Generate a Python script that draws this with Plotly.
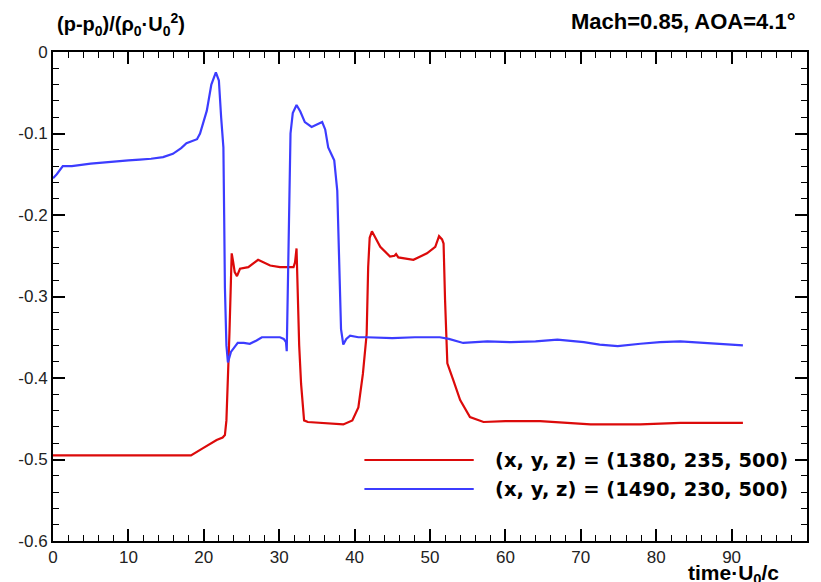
import plotly.graph_objects as go

# ---- data ----
blue_x = [0, 0.5, 1.3, 2.5, 5, 7.1, 10, 11.5, 13, 14.6, 15.9, 17, 17.7, 19.1, 19.5, 20.4, 21.0, 21.6, 22.0,
          22.3, 22.6, 22.7, 22.8, 23.0, 23.2, 23.6, 24.5, 25.3, 26.1, 27.0, 27.7, 29, 30.1, 30.6, 30.9, 31.0,
          31.15, 31.3, 31.5, 31.8, 32.3, 32.8, 33.4, 34.3, 35.0, 35.7, 36.1, 36.5, 37.0, 37.3, 37.7, 37.9, 38.0,
          38.2, 38.5, 38.9, 39.4, 40.5, 41.6, 45, 48, 51.3, 52.5, 54.4, 56, 57.6, 60.7, 64, 66.9, 70.4, 72.5,
          74.9, 77.9, 80.5, 83.2, 87.6, 91.5]
blue_y = [-0.155, -0.150, -0.140, -0.140, -0.137, -0.135, -0.133, -0.132, -0.131, -0.129, -0.125, -0.118,
          -0.112, -0.107, -0.100, -0.072, -0.040, -0.025, -0.035, -0.080, -0.117, -0.200, -0.289, -0.360,
          -0.381, -0.368, -0.357, -0.357, -0.358, -0.354, -0.350, -0.350, -0.350, -0.352, -0.356, -0.367,
          -0.300, -0.200, -0.100, -0.075, -0.065, -0.073, -0.086, -0.092, -0.089, -0.086, -0.095, -0.117,
          -0.127, -0.133, -0.170, -0.230, -0.272, -0.340, -0.359, -0.352, -0.348, -0.350, -0.350, -0.351,
          -0.350, -0.350, -0.352, -0.357, -0.356, -0.355, -0.356, -0.355, -0.353, -0.356, -0.359, -0.361,
          -0.358, -0.356, -0.355, -0.358, -0.360]

red_x = [0, 18.3, 19.9, 21.0, 21.7, 22.5, 22.8, 23.0, 23.2, 23.4, 23.6, 23.7, 23.9, 24.1, 24.4, 24.8, 25.9,
         27.2, 28.8, 30.1, 31.9, 32.1, 32.3, 32.45, 32.65, 32.9, 33.3, 33.8, 36, 38.5, 39.7, 40.5, 41.1, 41.6,
         41.8, 42.0, 42.3, 42.7, 43.4, 44.7, 45.3, 45.5, 45.8, 47.8, 49.6, 50.7, 51.2, 51.6, 51.8, 52.0, 52.3,
         53.1, 54.0, 55.3, 57.1, 60, 64.6, 71.3, 77.9, 83.2, 91.5]
red_y = [-0.495, -0.495, -0.486, -0.480, -0.476, -0.473, -0.470, -0.452, -0.403, -0.345, -0.280, -0.247,
         -0.258, -0.270, -0.275, -0.266, -0.264, -0.255, -0.262, -0.264, -0.264, -0.258, -0.241, -0.305,
         -0.360, -0.407, -0.452, -0.454, -0.455, -0.457, -0.452, -0.436, -0.395, -0.346, -0.264, -0.228,
         -0.220, -0.227, -0.239, -0.251, -0.250, -0.248, -0.252, -0.255, -0.247, -0.239, -0.226, -0.230,
         -0.235, -0.305, -0.382, -0.403, -0.427, -0.448, -0.454, -0.453, -0.453, -0.457, -0.457, -0.455,
         -0.455]

red_name = "(x, y, z) = (1380, 235, 500)"
blue_name = "(x, y, z) = (1490, 230, 500)"

x_ticks = [0, 10, 20, 30, 40, 50, 60, 70, 80, 90, 100]
x_ticktext = ["0", "10", "20", "30", "40", "50", "60", "70", "80", "90", "100"]
y_ticks = [0, -0.1, -0.2, -0.3, -0.4, -0.5, -0.6]
y_ticktext = ["0", "-0.1", "-0.2", "-0.3", "-0.4", "-0.5", "-0.6"]

RED = "#dc0a0a"
BLUE = "#3c3cff"

fig = go.Figure()
fig.add_trace(go.Scatter(x=red_x, y=red_y, mode="lines", line=dict(color=RED, width=2.2), showlegend=False))
# blue drawn on the twin (top/right) axes, which share the same ranges
fig.add_trace(go.Scatter(x=blue_x, y=blue_y, mode="lines", xaxis="x2", yaxis="y2",
                         line=dict(color=BLUE, width=2.2), showlegend=False))

tickfont = dict(family="Liberation Sans, Arial, sans-serif", size=17, color="#222")
xr = [x_ticks[0], x_ticks[-1]]
yr = [y_ticks[-1], y_ticks[0]]
xd = x_ticks[1] - x_ticks[0]
yd = round(y_ticks[0] - y_ticks[1], 3)

axis_common = dict(showgrid=False, zeroline=False, showline=True, linewidth=2, linecolor="black",
                   tickcolor="black", ticks="inside", ticklen=12, tickwidth=2, automargin=False)

fig.update_layout(
    template="none",
    xaxis=dict(range=xr, tickmode="array", tickvals=x_ticks, ticktext=x_ticktext, tickfont=tickfont,
               **axis_common),
    yaxis=dict(range=yr, tickmode="array", tickvals=y_ticks, ticktext=y_ticktext, tickfont=tickfont,
               **axis_common),
    xaxis2=dict(range=xr, tickmode="linear", tick0=0, dtick=xd, showticklabels=False,
                minor=dict(ticks="inside", ticklen=6, tickwidth=1, dtick=xd / 5),
                overlaying="x", side="top", anchor="y2", mirror="ticks", **axis_common),
    yaxis2=dict(range=yr, tickmode="linear", tick0=0, dtick=yd, showticklabels=False,
                minor=dict(ticks="inside", ticklen=6, tickwidth=1, dtick=yd / 5),
                overlaying="y", side="right", anchor="x2", mirror="ticks", **axis_common),
)

bold = dict(family="Liberation Sans, Arial, sans-serif", size=21, color="black")
legfont = dict(family="DejaVu Sans, sans-serif", size=19.5, color="black")

annotations = [
    dict(text="<b>(p-p<sub>0</sub>)/(ρ<sub>0</sub>·U<sub>0</sub><sup>2</sup>)</b>", xref="paper", yref="paper",
         x=0.002, y=1.057, xanchor="left", yanchor="middle", showarrow=False,
         font=dict(family="Liberation Sans, Arial, sans-serif", size=20, color="black")),
    dict(text="<b>Mach=0.85, AOA=4.1°</b>", xref="paper", yref="paper",
         x=0.987, y=1.062, xanchor="right", yanchor="middle", showarrow=False,
         font=dict(family="Liberation Sans, Arial, sans-serif", size=22, color="black")),
    dict(text="<b>time·U<sub>0</sub>/c</b>", xref="paper", yref="paper",
         x=0.84, y=-0.036, xanchor="left", yanchor="top", showarrow=False, font=bold),
    dict(text="<b>" + red_name + "</b>", xref="paper", yref="paper",
         x=0.583, y=0.1656, xanchor="left", yanchor="middle", showarrow=False, font=legfont),
    dict(text="<b>" + blue_name + "</b>", xref="paper", yref="paper",
         x=0.583, y=0.1063, xanchor="left", yanchor="middle", showarrow=False, font=legfont),
]

shapes = [
    dict(type="line", xref="paper", yref="paper", x0=0.413, x1=0.558, y0=0.1656, y1=0.1656,
         line=dict(color=RED, width=2.2)),
    dict(type="line", xref="paper", yref="paper", x0=0.413, x1=0.558, y0=0.1063, y1=0.1063,
         line=dict(color=BLUE, width=2.2)),
]

fig.update_layout(width=821, height=582, margin=dict(l=53, r=14, t=52, b=41, autoexpand=False),
                  paper_bgcolor="white", plot_bgcolor="white",
                  annotations=annotations, shapes=shapes, showlegend=False)

fig.write_html("out.html")
